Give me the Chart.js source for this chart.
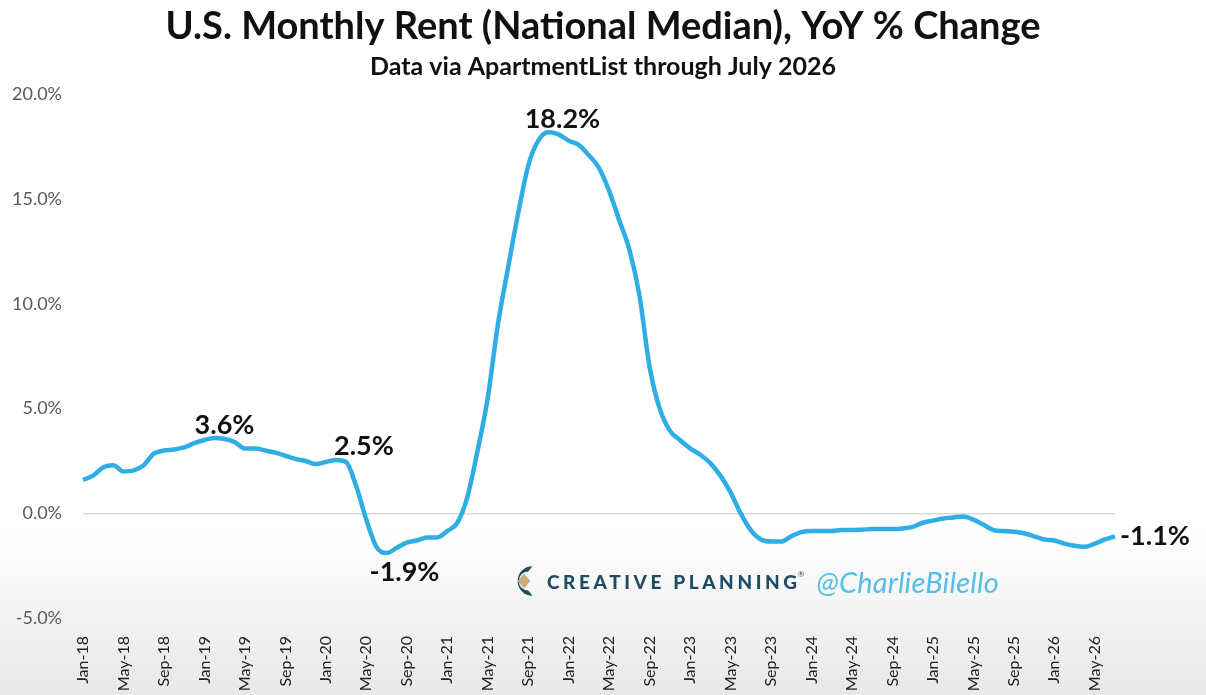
<!DOCTYPE html>
<html>
<head>
<meta charset="utf-8">
<script src="https://cdn.jsdelivr.net/npm/chart.js@4.4.1/dist/chart.umd.min.js"></script>
<style>
  html, body { margin: 0; padding: 0; }
  body { width: 1206px; height: 695px; overflow: hidden;
         background: linear-gradient(to bottom, #ffffff 0%, #ffffff 76%, #e8e8e8 100%); position: relative; }
  #wrap { position: absolute; left: 0; top: 0; width: 1206px; height: 695px; }
  #wm { position: absolute; left: 510px; top: 562px; height: 38px; display: flex; align-items: center; white-space: nowrap; }
  #wm .cp { font-family: Lato, sans-serif; font-weight: 900; font-size: 19px; letter-spacing: 3.6px; color: #1f4b63; margin-left: 9px; }
  #wm .reg { font-family: Lato, sans-serif; font-size: 8px; color: #1f4b63; position: relative; top: -7px; margin-left: -3px; }
  #wm .cb { font-family: Lato, sans-serif; font-style: italic; font-size: 29px; color: #56bde6; margin-left: 12px; letter-spacing: 0.2px; }
</style>
</head>
<body>
<div id="wrap"><canvas id="c" width="1206" height="695"></canvas></div>
<div id="wm">
  <svg width="28" height="36" viewBox="0 0 26 34">
    <path d="M21 3 A14 14 0 1 0 21 31 L17 26 A8 8 0 1 1 17 8 Z" fill="#1f4b63"/>
    <path d="M13 10 L19 17 L13 24 L7 17 Z" fill="#c9ab7c"/>
  </svg>
  <span class="cp">CREATIVE PLANNING</span><span class="reg">®</span>
  <span class="cb">@CharlieBilello</span>
</div>
<script>
const months = [];
const monthNames = ['Jan','Feb','Mar','Apr','May','Jun','Jul','Aug','Sep','Oct','Nov','Dec'];
for (let y = 18; y <= 26; y++) {
  for (let m = 0; m < 12; m++) {
    if (y === 26 && m > 6) break;
    months.push(monthNames[m] + '-' + y);
  }
}

const yoy2018 = [1.6, 1.8, 2.2, 2.3, 2.0, 2.05, 2.3, 2.85, 3.0, 3.05, 3.15, 3.35];
const yoy2019 = [3.5, 3.6, 3.55, 3.4, 3.1, 3.1, 3.0, 2.9, 2.75, 2.6, 2.5, 2.35];
const yoy2020 = [2.45, 2.55, 2.45, 1.3, -0.3, -1.6, -1.9, -1.65, -1.4, -1.3, -1.15, -1.15];
const yoy2021 = [-0.85, -0.45, 0.8, 3.0, 5.5, 9.0, 11.7, 14.3, 16.6, 17.8, 18.2, 18.1];
const yoy2022 = [17.8, 17.6, 17.1, 16.5, 15.4, 14.0, 12.6, 10.4, 7.0, 5.0, 3.95, 3.5];
const yoy2023 = [3.1, 2.8, 2.4, 1.8, 1.0, 0.0, -0.8, -1.25, -1.35, -1.35, -1.1, -0.9];
const yoy2024 = [-0.85, -0.85, -0.85, -0.8, -0.8, -0.78, -0.75, -0.75, -0.75, -0.72, -0.65, -0.45];
const yoy2025 = [-0.35, -0.25, -0.2, -0.15, -0.3, -0.55, -0.8, -0.85, -0.88, -0.95, -1.1, -1.25];
const yoy2026 = [-1.3, -1.45, -1.55, -1.6, -1.45, -1.25, -1.1];
const yoyValues = [].concat(yoy2018, yoy2019, yoy2020, yoy2021, yoy2022, yoy2023, yoy2024, yoy2025, yoy2026);

const yTicks = [-5, 0, 5, 10, 15, 20];

// callouts: index into series, text
const calloutIdx  = [46, 13, 25, 30, 102];
const calloutText = ['18.2%', '3.6%', '2.5%', '-1.9%', '-1.1%'];

const calloutPlugin = {
  id: 'callouts',
  afterDatasetsDraw(chart) {
    const ctx = chart.ctx;
    const meta = chart.getDatasetMeta(0);
    const offs = [[14, -4, 'center'], [10, -4, 'center'], [28, -5, 'center'], [18, 28, 'center'], [5, 9, 'left']];
    ctx.save();
    ctx.font = 'bold 27px Lato, sans-serif';
    ctx.fillStyle = '#111111';
    ctx.textBaseline = 'alphabetic';
    calloutIdx.forEach((idx, k) => {
      const p = meta.data[idx];
      ctx.textAlign = offs[k][2];
      ctx.fillText(calloutText[k], p.x + offs[k][0], p.y + offs[k][1]);
    });
    ctx.restore();
  }
};

new Chart(document.getElementById('c'), {
  type: 'line',
  data: {
    labels: months,
    datasets: [{
      data: yoyValues,
      borderColor: '#2eaee4',
      borderWidth: 4.5,
      pointRadius: 0,
      tension: 0.35,
      cubicInterpolationMode: 'monotone',
      fill: false
    }]
  },
  options: {
    responsive: false,
    animation: false,
    devicePixelRatio: 1,
    layout: { padding: { left: 0, right: 0, top: 0, bottom: 3 } },
    plugins: {
      legend: { display: false },
      tooltip: { enabled: false },
      title: {
        display: true,
        text: 'U.S. Monthly Rent (National Median), YoY % Change',
        color: '#111111',
        font: { family: 'Lato, sans-serif', size: 38, weight: 'bold' },
        padding: { top: 4, bottom: 0 }
      },
      subtitle: {
        display: true,
        text: 'Data via ApartmentList through July 2026',
        color: '#111111',
        font: { family: 'Lato, sans-serif', size: 25, weight: 'bold' },
        padding: { top: 2, bottom: 13 }
      }
    },
    scales: {
      x: {
        grid: { display: false },
        border: { display: false },
        afterFit: (axis) => { axis.height = 74; },
        ticks: {
          autoSkip: false,
          minRotation: 90,
          maxRotation: 90,
          padding: 10,
          color: '#222222',
          font: { family: 'Lato, sans-serif', size: 16 },
          callback: (v, i) => (i % 4 === 0 ? months[i] : '')
        }
      },
      y: {
        min: -5,
        max: 20,
        afterBuildTicks: (axis) => { axis.ticks = yTicks.map(v => ({ value: v })); },
        afterFit: (axis) => { axis.width = 83; },
        border: { display: false },
        grid: {
          drawTicks: false,
          color: (c) => (c.tick && c.tick.value === 0 ? '#d9d9d9' : 'rgba(0,0,0,0)'),
          lineWidth: 1.5
        },
        ticks: {
          padding: 21,
          color: '#595959',
          font: { family: 'Lato, sans-serif', size: 18 },
          callback: (v) => v.toFixed(1) + '%'
        }
      },
      yRight: {
        position: 'right',
        min: -5,
        max: 20,
        afterFit: (axis) => { axis.width = 91; },
        border: { display: false },
        grid: { display: false },
        ticks: { display: false }
      }
    }
  },
  plugins: [calloutPlugin]
});
</script>
</body>
</html>
